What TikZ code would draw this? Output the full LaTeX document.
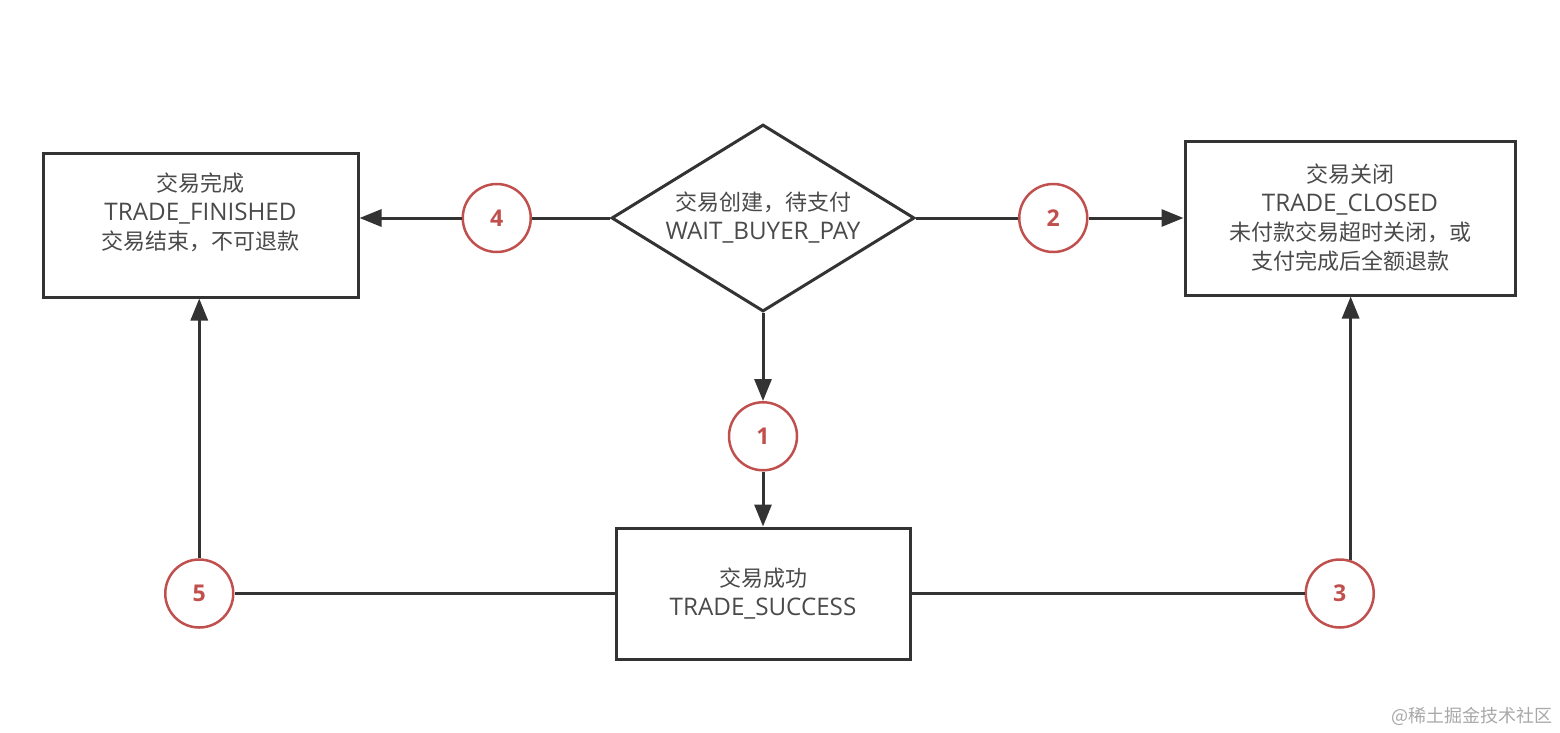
\documentclass[tikz,border=0pt]{standalone}
\usepackage{fontspec}
\setmainfont{Open Sans}[Scale=1.1]
\newfontfamily\cjk{Noto Sans CJK SC}
\usetikzlibrary{positioning, shapes.geometric, arrows.meta}
\definecolor{linegray}{HTML}{333333}
\definecolor{textgray}{HTML}{4A4A4A}
\definecolor{stepred}{HTML}{C0504D}
\definecolor{markgray}{HTML}{A8A8A8}

\begin{document}
\begin{tikzpicture}[x=1pt, y=-1pt,
		state/.style={draw=linegray, line width=3pt, fill=white, text=textgray, align=center, inner sep=0pt, font=\fontsize{22}{29}\selectfont},
		num/.style={circle, draw=stepred, line width=2.5pt, minimum size=68pt, inner sep=0pt, text=stepred, font=\fontsize{21}{21}\selectfont\bfseries},
		conn/.style={draw=linegray, line width=3pt},
		arr/.style={conn, -{Triangle[length=22pt, width=17pt]}}]
			\useasboundingbox (0,0) rectangle (1560,732);

			\node[state, diamond, shape aspect=1.62, minimum width=303pt, minimum height=187pt]  (wait)  at (763,218) {{\cjk 交易创建，待支付}\\WAIT\_BUYER\_PAY};
			\node[num, left=78pt of wait]  (c4)  {4};
			\node[num, right=102pt of wait]  (c2)  {2};
			\node[num, below=88pt of wait]  (c1)  {1};

			\node[state, minimum width=315pt, minimum height=144pt, text height=80pt, text depth=32pt, left=102pt of c4, yshift=-7pt]  (fin)  {{\cjk 交易完成}\\TRADE\_FINISHED\\{\cjk 交易结束，不可退款}};
			\node[state, minimum width=330pt, minimum height=154pt, right=95pt of c2]  (closed)  {{\cjk 交易关闭}\\TRADE\_CLOSED\\{\cjk 未付款交易超时关闭，或}\\{\cjk 支付完成后全额退款}};
			\node[state, minimum width=294pt, minimum height=131pt, below=55pt of c1]  (succ)  {{\cjk 交易成功}\\TRADE\_SUCCESS};

			\node[num, left=380pt of succ]  (c5)  {5};
			\node[num, right=393pt of succ]  (c3)  {3};

			\node[anchor=east, text=markgray, inner sep=0pt, font=\cjk\fontsize{18}{18}\selectfont] (mark) at (1553,716) {@稀土掘金技术社区};

			\draw[conn] (wait.west) -- (c4.east);
			\draw[arr] (c4.west) -- (c4.west -| fin.east);
			\draw[conn] (wait.east) -- (c2.west);
			\draw[arr] (c2.east) -- (c2.east -| closed.west);
			\draw[arr] (wait.south) -- (c1.north);
			\draw[arr] (c1.south) -- (succ.north);
			\draw[conn] (succ.west) -- (c5.east);
			\draw[arr] (c5.north) -- (c5.north |- fin.south);
			\draw[conn] (succ.east) -- (c3.west);
			\draw[arr] (c3.72) -- (c3.72 |- closed.south);
		\end{tikzpicture}
\end{document}
